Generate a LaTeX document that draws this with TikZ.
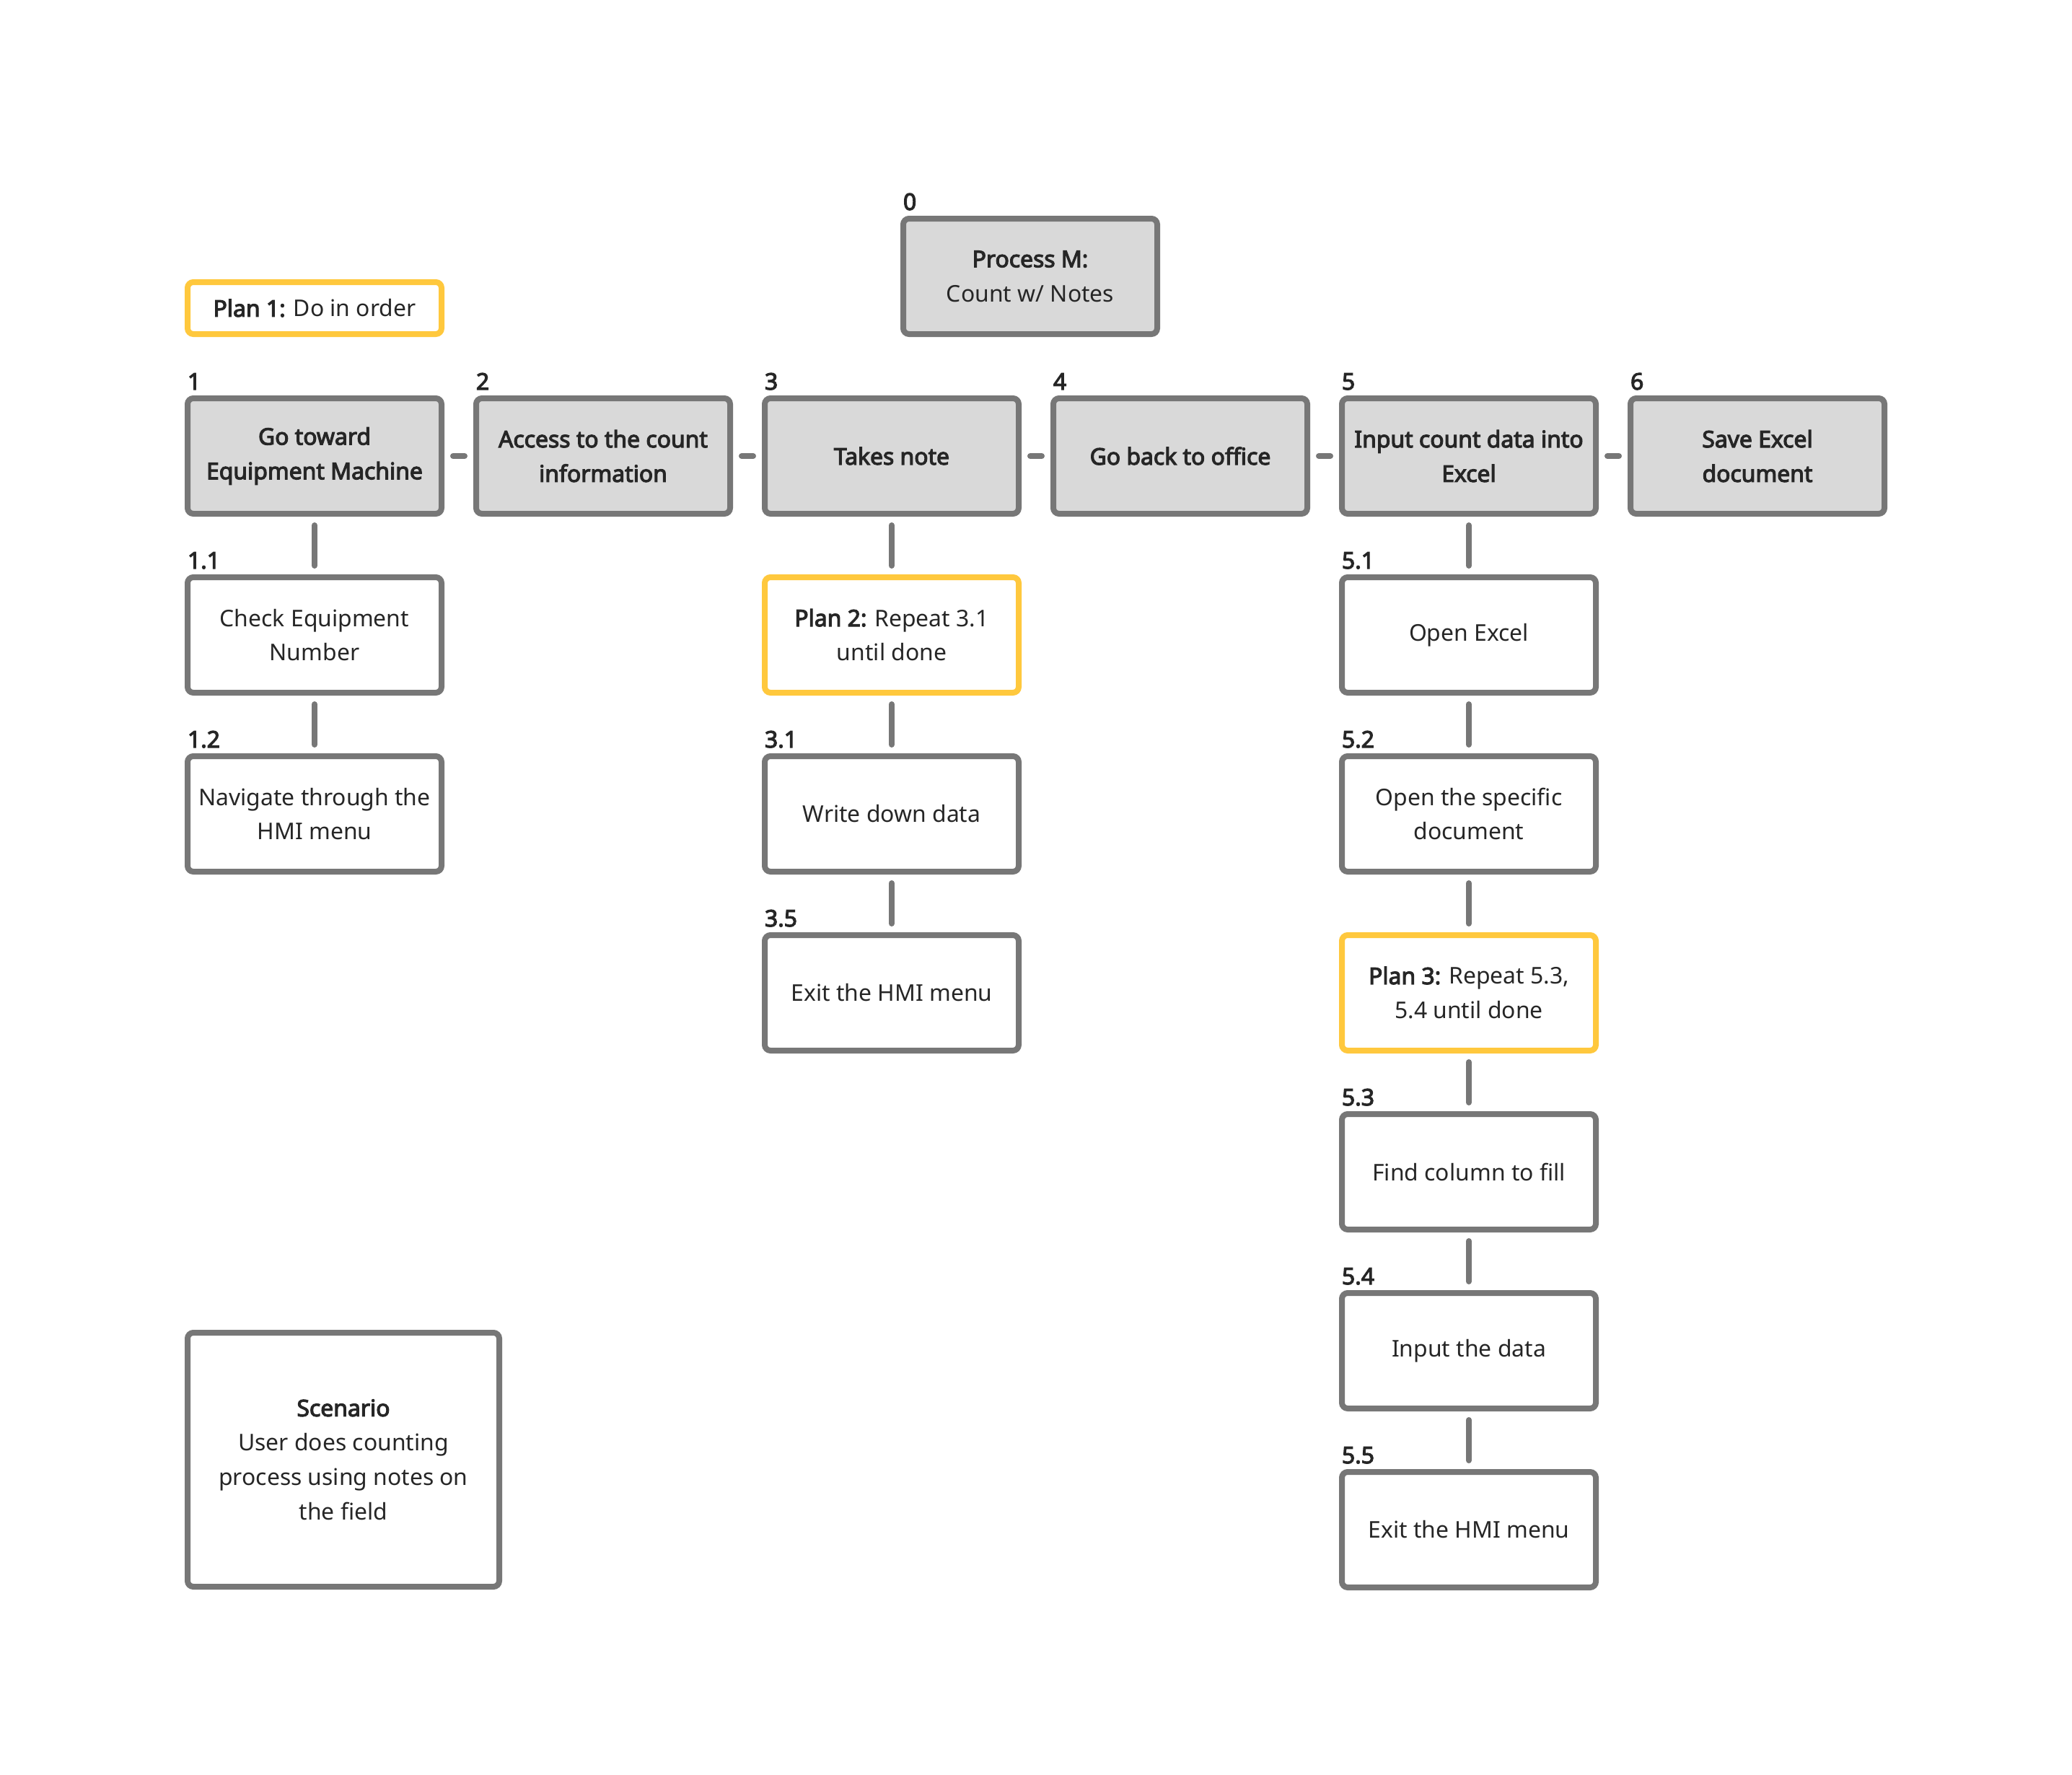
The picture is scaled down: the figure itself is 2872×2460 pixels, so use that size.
\documentclass[tikz,border=0pt]{standalone}
\usepackage{fontspec}
\setmainfont{Noto Sans}[AutoFakeBold=3.6]
\definecolor{bordergray}{HTML}{777777}
\definecolor{boxfill}{HTML}{D9D9D9}
\definecolor{planyellow}{HTML}{FFC83D}
\definecolor{txt}{HTML}{262626}
\tikzset{
  base/.style={rectangle, rounded corners=8bp, line width=8bp, minimum width=352bp, minimum height=160bp,
    inner sep=0pt, outer sep=0pt, align=center, text=txt, font=\fontsize{32}{48}\selectfont},
  mainbox/.style={base, draw=bordergray, fill=boxfill, font=\fontsize{32}{48}\selectfont\bfseries},
  topbox/.style={base, draw=bordergray, fill=boxfill},
  subbox/.style={base, draw=bordergray, fill=white},
  planbox/.style={base, draw=planyellow, fill=white},
  num/.style={anchor=base west, inner sep=0pt, outer sep=0pt, text=txt, font=\fontsize{32}{40}\selectfont\bfseries},
  link/.style={draw=bordergray, line width=8bp, line cap=round, shorten <=16bp, shorten >=16bp}
}
\begin{document}
\begin{tikzpicture}[x=1bp,y=-1bp]
\fill[white] (0,0) rectangle (2872,2460);
\useasboundingbox (0,0) rectangle (2872,2460);

% top
\node[topbox] (p0) at (1428,383) {\textbf{Process M:}\\Count w/ Notes};
\node[num] (l0) at ([yshift=12bp]p0.north west) {0};
\node[planbox, minimum height=72bp] (plan1) at (436,427) {\textbf{Plan 1:} Do in order};

% row 1
\node[mainbox] (b1) at (436,632) {Go toward\\Equipment Machine};
\node[mainbox] (b2) at (836,632) {Access to the count\\information};
\node[mainbox] (b3) at (1236,632) {Takes note};
\node[mainbox] (b4) at (1636,632) {Go back to office};
\node[mainbox] (b5) at (2036,632) {Input count data into\\Excel};
\node[mainbox] (b6) at (2436,632) {Save Excel\\document};
\node[num] (l1) at ([yshift=12bp]b1.north west) {1};
\node[num] (l2) at ([yshift=12bp]b2.north west) {2};
\node[num] (l3) at ([yshift=12bp]b3.north west) {3};
\node[num] (l4) at ([yshift=12bp]b4.north west) {4};
\node[num] (l5) at ([yshift=12bp]b5.north west) {5};
\node[num] (l6) at ([yshift=12bp]b6.north west) {6};

% column 1
\node[subbox] (b11) at (436,880) {Check Equipment\\Number};
\node[subbox] (b12) at (436,1128) {Navigate through the\\HMI menu};
\node[num] (l11) at ([yshift=12bp]b11.north west) {1.1};
\node[num] (l12) at ([yshift=12bp]b12.north west) {1.2};

% column 3
\node[planbox] (plan2) at (1236,880) {\textbf{Plan 2:} Repeat 3.1\\until done};
\node[subbox] (b31) at (1236,1128) {Write down data};
\node[subbox] (b35) at (1236,1376) {Exit the HMI menu};
\node[num] (l31) at ([yshift=12bp]b31.north west) {3.1};
\node[num] (l35) at ([yshift=12bp]b35.north west) {3.5};

% column 5
\node[subbox] (b51) at (2036,880) {Open Excel};
\node[subbox] (b52) at (2036,1128) {Open the specific\\document};
\node[planbox] (plan3) at (2036,1376) {\textbf{Plan 3:} Repeat 5.3,\\5.4 until done};
\node[subbox] (b53) at (2036,1624) {Find column to fill};
\node[subbox] (b54) at (2036,1872) {Input the data};
\node[subbox] (b55) at (2036,2120) {Exit the HMI menu};
\node[num] (l51) at ([yshift=12bp]b51.north west) {5.1};
\node[num] (l52) at ([yshift=12bp]b52.north west) {5.2};
\node[num] (l53) at ([yshift=12bp]b53.north west) {5.3};
\node[num] (l54) at ([yshift=12bp]b54.north west) {5.4};
\node[num] (l55) at ([yshift=12bp]b55.north west) {5.5};

% scenario
\node[subbox, minimum width=432bp, minimum height=352bp] (scen) at (476,2023)
  {\textbf{Scenario}\\User does counting\\process using notes on\\the field};

% connectors
\draw[link] (b1.east) -- (b2.west);
\draw[link] (b2.east) -- (b3.west);
\draw[link] (b3.east) -- (b4.west);
\draw[link] (b4.east) -- (b5.west);
\draw[link] (b5.east) -- (b6.west);
\draw[link] (b1.south) -- (b11.north);
\draw[link] (b11.south) -- (b12.north);
\draw[link] (b3.south) -- (plan2.north);
\draw[link] (plan2.south) -- (b31.north);
\draw[link] (b31.south) -- (b35.north);
\draw[link] (b5.south) -- (b51.north);
\draw[link] (b51.south) -- (b52.north);
\draw[link] (b52.south) -- (plan3.north);
\draw[link] (plan3.south) -- (b53.north);
\draw[link] (b53.south) -- (b54.north);
\draw[link] (b54.south) -- (b55.north);
\end{tikzpicture}
\end{document}
